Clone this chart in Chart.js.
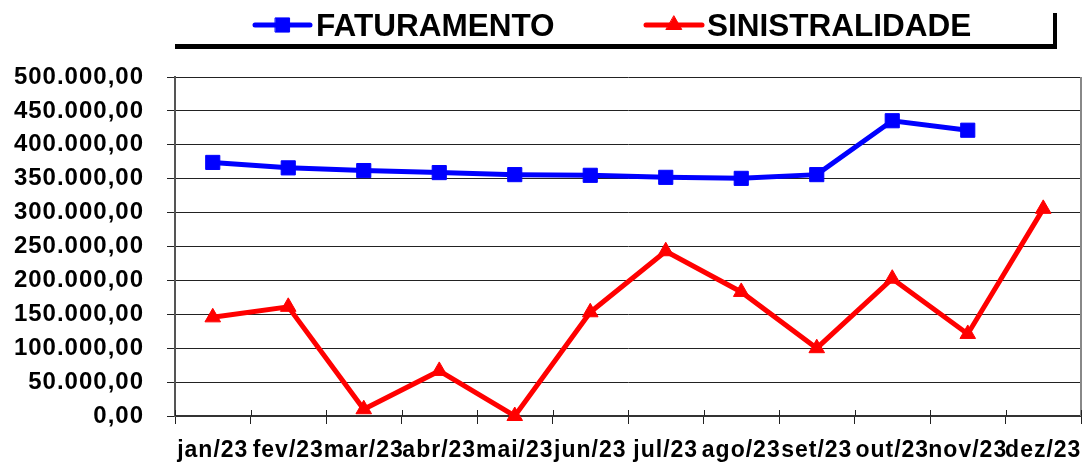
<!DOCTYPE html>
<html>
<head>
<meta charset="utf-8">
<script src="https://cdn.jsdelivr.net/npm/chart.js@4/dist/chart.umd.min.js"></script>
<style>
  html, body { margin: 0; padding: 0; background: #ffffff; }
  canvas { display: block; }
</style>
</head>
<body>
<canvas id="c" width="1092" height="463"></canvas>
<script>
const categories = ['jan/23', 'fev/23', 'mar/23', 'abr/23', 'mai/23', 'jun/23', 'jul/23', 'ago/23', 'set/23', 'out/23', 'nov/23', 'dez/23'];
const faturamento = [374000, 366000, 362000, 359000, 356000, 355000, 352000, 350500, 356000, 435500, 421500, null];
const sinistralidade = [145500, 161000, 10000, 66500, 0, 153000, 243000, 183000, 100000, 202500, 121000, 305500];
const seriesNames = ['FATURAMENTO', 'SINISTRALIDADE'];
const yTickLabels = ['0,00', '50.000,00', '100.000,00', '150.000,00', '200.000,00', '250.000,00', '300.000,00', '350.000,00', '400.000,00', '450.000,00', '500.000,00'];

const FONT = "'Liberation Sans', Arial, sans-serif";

const excelPlugin = {
  id: 'excelLook',
  beforeDraw(chart) {
    const ctx = chart.ctx;
    ctx.save();
    ctx.fillStyle = '#ffffff';
    ctx.fillRect(0, 0, chart.width, chart.height);
    ctx.restore();
    ctx.letterSpacing = '1px';
  },
  afterDatasetsDraw(chart) {
    const ctx = chart.ctx;
    const a = chart.chartArea;
    const xs = chart.scales.x;
    ctx.save();
    // right border of plot area
    ctx.strokeStyle = '#888888';
    ctx.lineWidth = 2;
    ctx.beginPath();
    ctx.moveTo(a.right, a.top);
    ctx.lineTo(a.right, a.bottom);
    ctx.stroke();
    // small tick marks crossing above the x axis
    ctx.strokeStyle = '#222222';
    ctx.lineWidth = 1;
    const n = categories.length;
    const half = (xs.getPixelForTick(1) - xs.getPixelForTick(0)) / 2;
    for (let i = 0; i <= n; i++) {
      const px = Math.round(xs.getPixelForTick(Math.min(i, n - 1)) + (i === n ? half : -half)) + 0.5;
      ctx.beginPath();
      ctx.moveTo(px, a.bottom - 6);
      ctx.lineTo(px, a.bottom);
      ctx.stroke();
    }
    ctx.restore();
  },
  afterDraw(chart) {
    const ctx = chart.ctx;
    ctx.save();
    ctx.letterSpacing = '0px';
    // legend box with shadow
    ctx.fillStyle = '#000000';
    ctx.fillRect(175, 13, 882, 36);
    ctx.fillStyle = '#ffffff';
    ctx.fillRect(171, 9, 882, 35);
    const items = [
      { x0: 255, x1: 310, tx: 316 },
      { x0: 646, x1: 702, tx: 707 }
    ];
    const yMid = 25;
    chart.data.datasets.forEach((ds, i) => {
      const it = items[i];
      ctx.strokeStyle = ds.borderColor;
      ctx.lineWidth = 5;
      ctx.lineCap = 'round';
      ctx.beginPath();
      ctx.moveTo(it.x0, yMid);
      ctx.lineTo(it.x1, yMid);
      ctx.stroke();
      ctx.fillStyle = ds.pointBackgroundColor;
      ctx.strokeStyle = ds.pointBorderColor;
      ctx.lineWidth = ds.pointBorderWidth;
      Chart.helpers.drawPoint(ctx, { pointStyle: ds.pointStyle, radius: ds.pointRadius, rotation: 0, borderWidth: ds.pointBorderWidth }, (it.x0 + it.x1) / 2, yMid);
      ctx.fillStyle = '#000000';
      ctx.font = 'bold 31.5px ' + FONT;
      ctx.textBaseline = 'alphabetic';
      ctx.textAlign = 'left';
      ctx.fillText(ds.label, it.tx, 36);
    });
    ctx.restore();
  }
};

new Chart(document.getElementById('c'), {
  type: 'line',
  data: {
    labels: categories,
    datasets: [
      {
        label: seriesNames[0],
        data: faturamento,
        borderColor: '#0000FF',
        backgroundColor: '#0000FF',
        borderWidth: 5,
        pointStyle: 'rect',
        pointRadius: 10,
        pointBackgroundColor: '#0000FF',
        pointBorderColor: '#0000FF',
        pointBorderWidth: 1,
        tension: 0,
        clip: false
      },
      {
        label: seriesNames[1],
        data: sinistralidade,
        borderColor: '#FF0000',
        backgroundColor: '#FF0000',
        borderWidth: 5,
        pointStyle: 'triangle',
        pointRadius: 9,
        pointBackgroundColor: '#FF0000',
        pointBorderColor: '#FF0000',
        pointBorderWidth: 1,
        tension: 0,
        clip: false
      }
    ]
  },
  options: {
    responsive: false,
    animation: false,
    events: [],
    layout: { padding: { top: 77, right: 6, left: 0, bottom: 0 } },
    plugins: {
      legend: { display: false },
      tooltip: { enabled: false },
      title: { display: false }
    },
    scales: {
      x: {
        type: 'category',
        offset: true,
        afterFit(scale) { scale.height = 47; },
        grid: {
          display: true,
          drawOnChartArea: false,
          drawTicks: true,
          tickLength: 8,
          offset: true,
          color: '#222222',
          lineWidth: 1
        },
        border: { display: true, color: '#333333', width: 2 },
        ticks: {
          autoSkip: false,
          maxRotation: 0,
          minRotation: 0,
          padding: 13,
          color: '#000000',
          font: { family: FONT, size: 23, weight: 'bold' }
        }
      },
      y: {
        min: 0,
        max: 500000,
        afterFit(scale) { scale.width = 175; },
        grid: {
          color: '#222222',
          lineWidth: 1,
          drawTicks: true,
          tickLength: 8
        },
        border: { display: true, color: '#555555', width: 2 },
        ticks: {
          stepSize: 50000,
          padding: 23,
          color: '#000000',
          font: { family: FONT, size: 24, weight: 'bold' },
          callback: (value, index) => yTickLabels[index]
        }
      }
    }
  },
  plugins: [excelPlugin]
});
</script>
</body>
</html>
